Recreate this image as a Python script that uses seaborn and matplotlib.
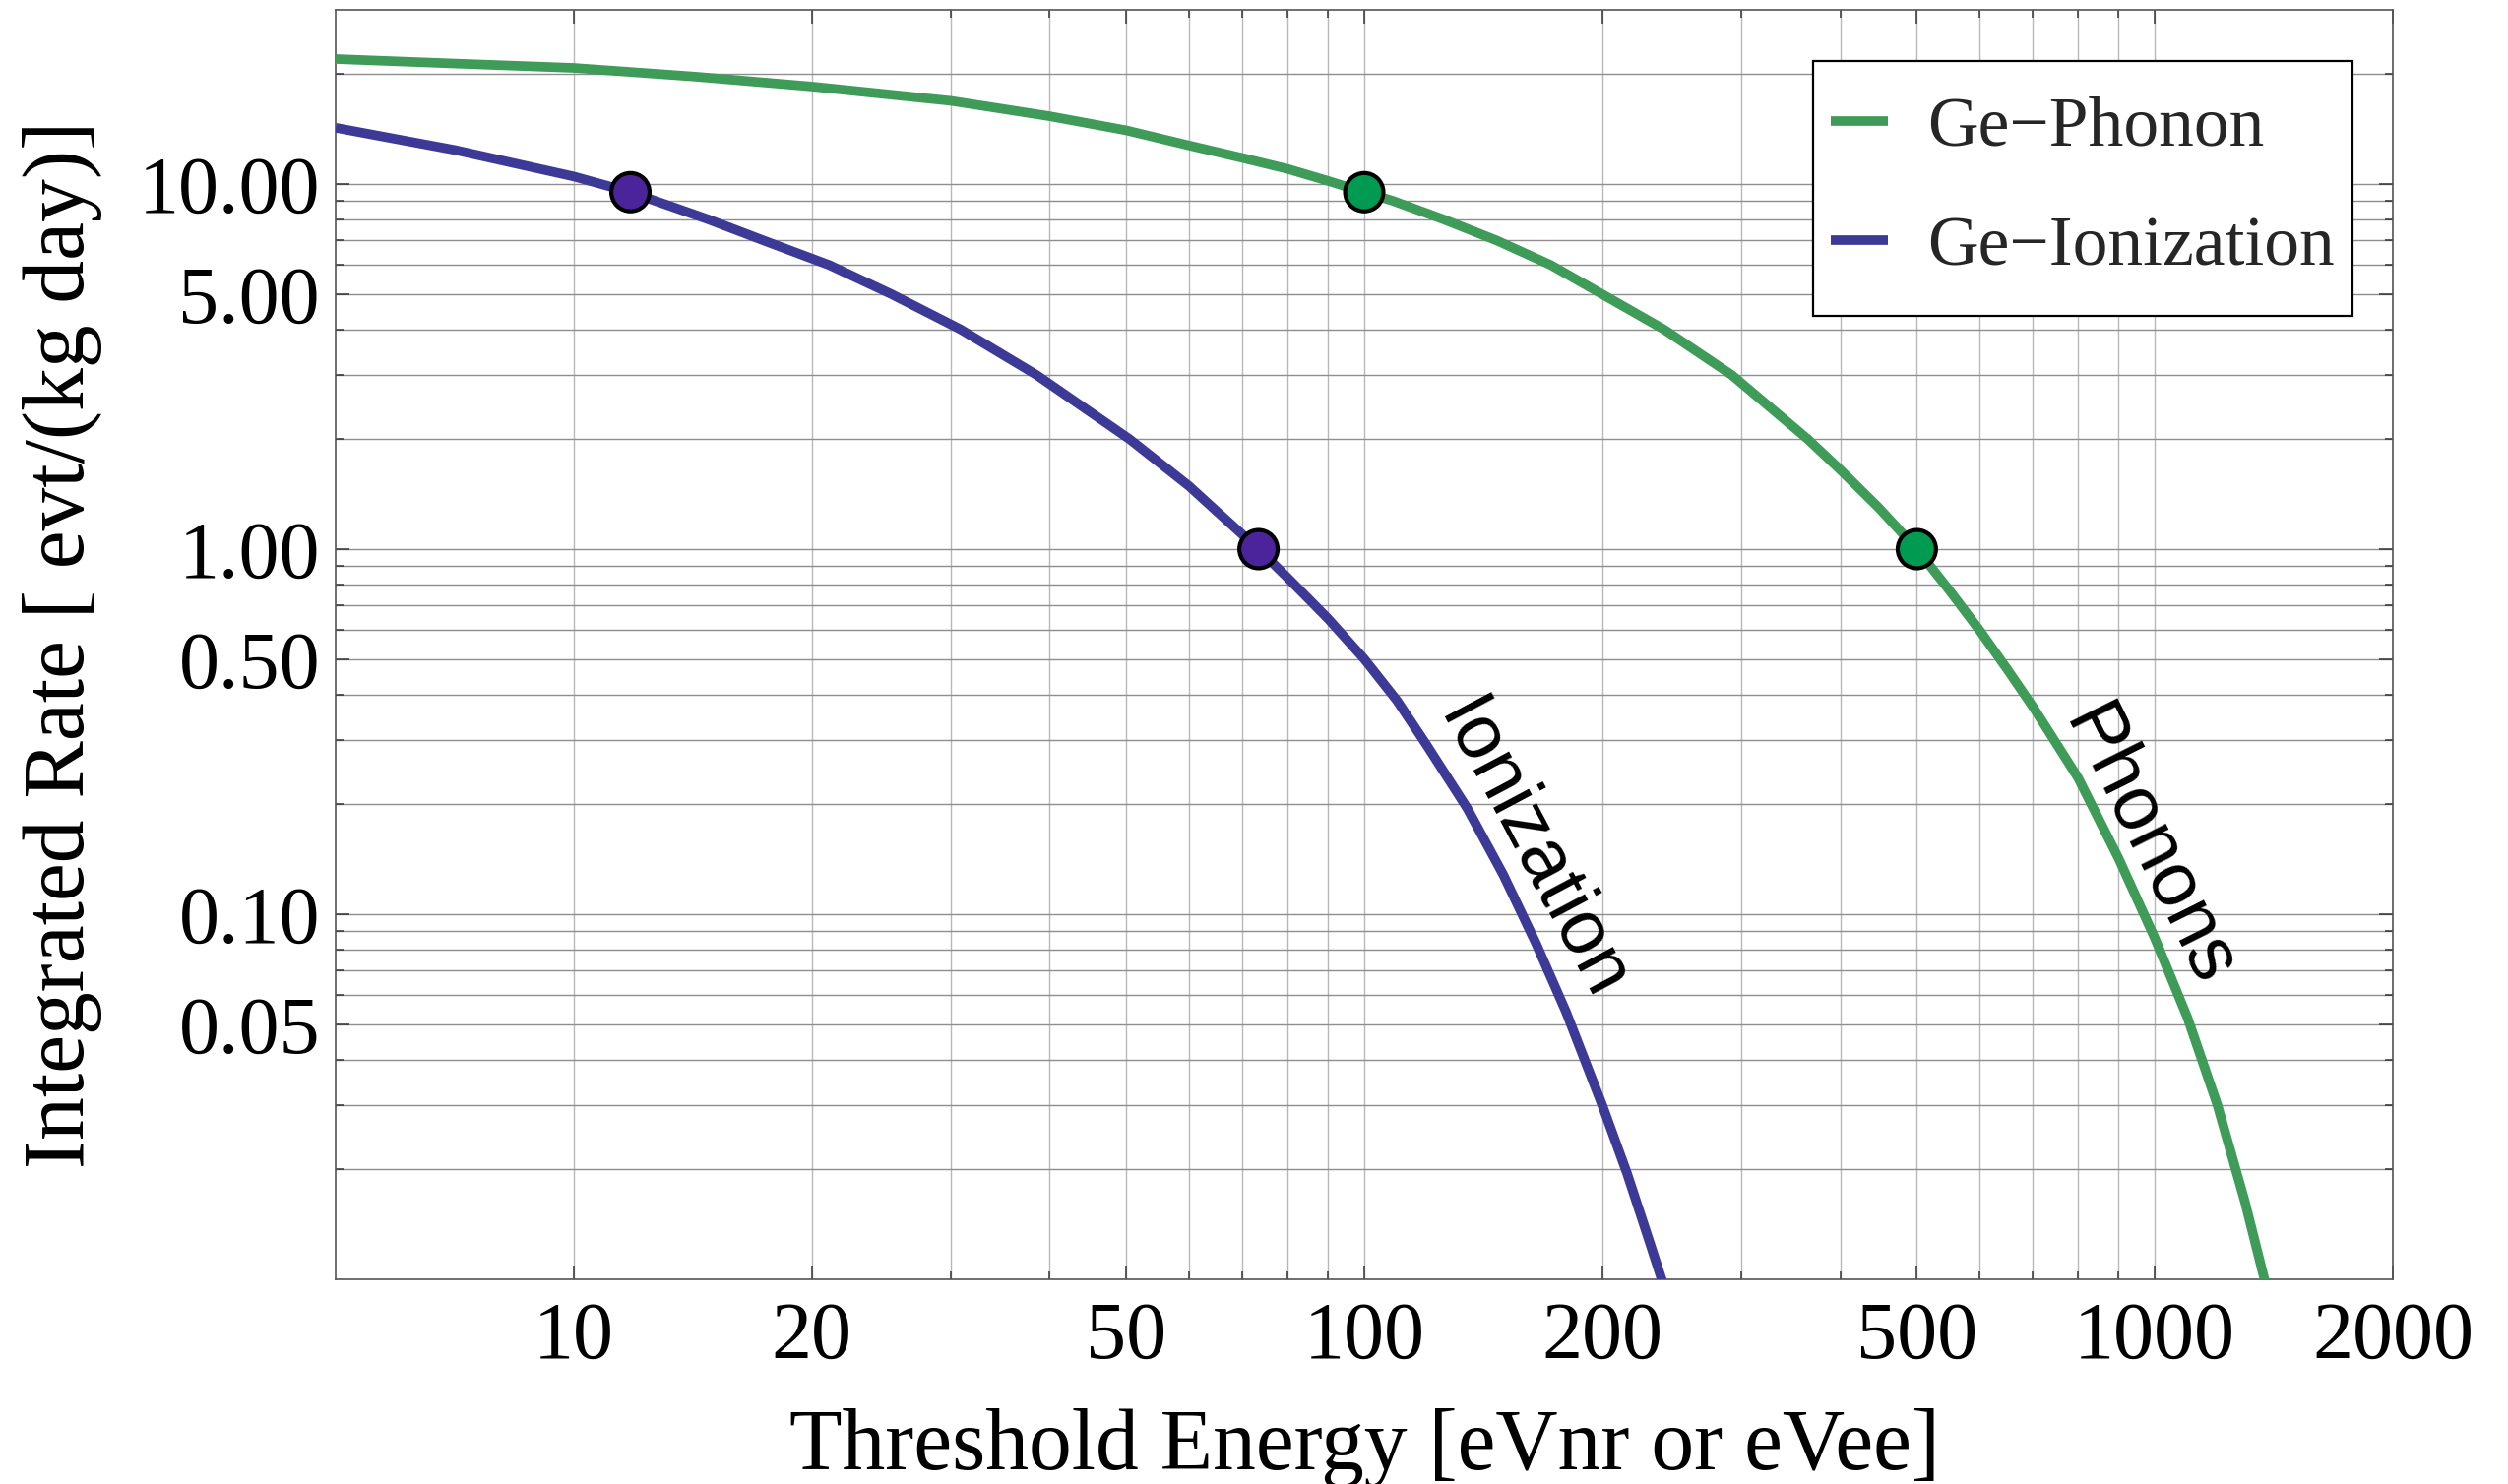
import numpy as np
import pandas as pd
import matplotlib
matplotlib.use("Agg")
import matplotlib.pyplot as plt
from matplotlib.ticker import FixedLocator, FixedFormatter, NullFormatter
from matplotlib.lines import Line2D
from matplotlib.patches import Rectangle
import seaborn as sns

# Integrated rate above threshold for a Ge target
phonon_energy = [5, 7, 10, 14.2, 20, 30, 40, 50, 60, 70, 80, 90, 100, 108.6, 126,
                 147.2, 172.2, 199.7, 239.3, 291.6, 364, 400, 448, 500, 550, 600,
                 650, 700, 800, 900, 1000, 1100, 1200, 1300, 1376, 1420]
phonon_rate = [22.0, 21.4, 20.8, 19.7, 18.5, 16.9, 15.34, 14.03, 12.76, 11.8, 11.0,
               10.2, 9.5, 9.0, 8.0, 7.0, 6.0, 5.0, 4.0, 3.0, 2.0, 1.65, 1.295,
               1.0, 0.77, 0.60, 0.47, 0.372, 0.236, 0.142, 0.086, 0.052, 0.030,
               0.0163, 0.010, 0.0075]

ion_energy = [5, 7.07, 10, 11.8, 14.8, 17.4, 21.05, 25.2, 30.85, 38.5, 50.5, 60, 70,
              73.5, 80, 90, 100, 110, 120, 135, 150, 165, 180, 200, 215, 230, 240, 250]
ion_rate = [14.26, 12.4, 10.49, 9.5, 8.0, 7.0, 6.0, 5.0, 4.0, 3.0, 2.0, 1.49, 1.10,
            1.0, 0.835, 0.645, 0.50, 0.385, 0.29, 0.195, 0.128, 0.083, 0.054,
            0.030, 0.0195, 0.0125, 0.0094, 0.0071]

# highlighted thresholds (10 and 1 evt/(kg day))
phonon_mark_energy = [100, 500]
phonon_mark_rate = [9.5, 1.0]
ion_mark_energy = [11.8, 73.5]
ion_mark_rate = [9.5, 1.0]

series_names = ["Ge\u2212Phonon", "Ge\u2212Ionization"]
line_colors = {"Ge\u2212Phonon": "#3e9b58", "Ge\u2212Ionization": "#3c3a96"}
mark_colors = {"Ge\u2212Phonon": "#009b50", "Ge\u2212Ionization": "#4b249b"}

x_major = [10, 20, 50, 100, 200, 500, 1000, 2000]
x_major_labels = ["10", "20", "50", "100", "200", "500", "1000", "2000"]
x_minor = [30, 40, 60, 70, 80, 90, 300, 400, 600, 700, 800, 900]
y_major = [0.05, 0.1, 0.5, 1, 5, 10]
y_major_labels = ["0.05", "0.10", "0.50", "1.00", "5.00", "10.00"]
y_minor = [0.02, 0.03, 0.04, 0.06, 0.07, 0.08, 0.09, 0.2, 0.3, 0.4, 0.6, 0.7,
           0.8, 0.9, 2, 3, 4, 6, 7, 8, 9, 20]

curves = pd.DataFrame({
    "energy": phonon_energy + ion_energy,
    "rate": phonon_rate + ion_rate,
    "series": [series_names[0]] * len(phonon_energy) + [series_names[1]] * len(ion_energy),
})
marks = pd.DataFrame({
    "energy": phonon_mark_energy + ion_mark_energy,
    "rate": phonon_mark_rate + ion_mark_rate,
    "series": [series_names[0]] * len(phonon_mark_energy) + [series_names[1]] * len(ion_mark_energy),
})

sns.set_theme(style="white")
plt.rcParams["font.family"] = ["Liberation Serif", "DejaVu Serif"]

W, H = 2548, 1508
fig = plt.figure(figsize=(W / 100, H / 100), dpi=100)
left, right, top, bottom = 341, 2431, 10, 1300
ax = fig.add_axes([left / W, 1 - bottom / H, (right - left) / W, (bottom - top) / H])

ax.set_xscale("log")
ax.set_yscale("log")

line_w = 7.0
sns.lineplot(data=curves, x="energy", y="rate", hue="series", hue_order=series_names,
             palette=line_colors, estimator=None, sort=False, linewidth=line_w,
             legend=False, ax=ax, zorder=3)
for ln in ax.lines:
    ln.set_solid_joinstyle("round")
    ln.set_solid_capstyle("butt")
sns.scatterplot(data=marks, x="energy", y="rate", hue="series", hue_order=series_names,
                palette=mark_colors, s=784, edgecolor="black", linewidth=3.0,
                legend=False, ax=ax, zorder=5, clip_on=False)

ax.set_xlim(5, 2000)
ax.set_ylim(0.01, 30)

ax.xaxis.set_major_locator(FixedLocator(x_major))
ax.xaxis.set_major_formatter(FixedFormatter(x_major_labels))
ax.xaxis.set_minor_locator(FixedLocator(x_minor))
ax.xaxis.set_minor_formatter(NullFormatter())
ax.yaxis.set_major_locator(FixedLocator(y_major))
ax.yaxis.set_major_formatter(FixedFormatter(y_major_labels))
ax.yaxis.set_minor_locator(FixedLocator(y_minor))
ax.yaxis.set_minor_formatter(NullFormatter())

ax.grid(True, which="both", axis="x", color="#b8b8b8", linewidth=1.0, zorder=0)
ax.grid(True, which="both", axis="y", color="#8e8e8e", linewidth=1.0, zorder=0)
ax.set_axisbelow(True)

ax.tick_params(which="both", direction="in", top=True, right=True,
               bottom=True, left=True, color="#333333", width=1.1,
               labelsize=59, labelcolor="black")
ax.tick_params(which="major", length=10)
ax.tick_params(which="minor", length=5.8)
ax.tick_params(axis="x", which="major", pad=16)
ax.tick_params(axis="y", which="major", pad=11.5)

for sp in ax.spines.values():
    sp.set_color("#555555")
    sp.set_linewidth(1.2)

ax.set_xlabel("Threshold Energy [eVnr or eVee]", fontsize=63, color="black")
ax.set_ylabel("Integrated Rate [ evt/(kg day)]", fontsize=63, color="black")
ax.xaxis.set_label_coords(0.5, -0.1015)
ax.yaxis.set_label_coords(-0.1134, 0.5)

ax.text(163, 0.149, "Ionization", rotation=-62, rotation_mode="anchor",
        ha="center", va="center", fontsize=56, family="Liberation Sans",
        color="black", zorder=6)
ax.text(979, 0.153, "Phonons", rotation=-63.5, rotation_mode="anchor",
        ha="center", va="center", fontsize=56, family="Liberation Sans",
        color="black", zorder=6)

# legend frame drawn as its own box, entries placed inside it
box_l, box_t, box_r, box_b = 1842, 62, 2390, 321
frame = Rectangle((box_l / W, 1 - box_b / H), (box_r - box_l) / W, (box_b - box_t) / H,
                  transform=fig.transFigure, facecolor="white", edgecolor="black",
                  linewidth=1.6, zorder=9, clip_on=False)
ax.add_patch(frame)

handles = [Line2D([], [], color=line_colors[n], linewidth=line_w, solid_capstyle="butt")
           for n in series_names]
leg = ax.legend(handles, series_names, loc="upper right",
                bbox_to_anchor=(box_r / W, 1 - 80 / H), bbox_transform=fig.transFigure,
                borderaxespad=0, frameon=False, fontsize=51.5, handlelength=0.81,
                handletextpad=0.56, borderpad=0.25, labelspacing=0.79)
leg.set_zorder(10)

fig.savefig("out.png", dpi=100, facecolor="white")
